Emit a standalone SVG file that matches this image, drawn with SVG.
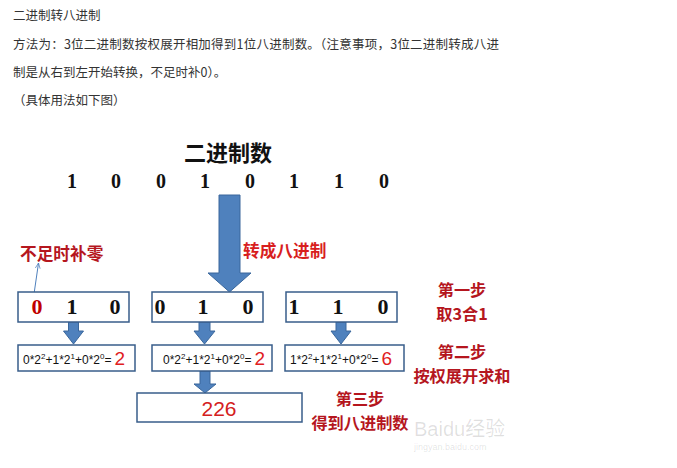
<svg xmlns="http://www.w3.org/2000/svg" width="677" height="468" viewBox="0 0 677 468">
<defs>
<style>
.para{font-family:"Noto Sans CJK SC","Noto Sans",sans-serif;font-size:12.5px;fill:#333}
.title{font-family:"Noto Sans CJK SC",sans-serif;font-size:22px;font-weight:bold;fill:#111}
.bit{font-family:"Liberation Serif","Noto Sans CJK SC",serif;font-size:20px;font-weight:bold;fill:#111;text-anchor:middle}
.bbit{font-family:"Liberation Serif",serif;font-size:22px;font-weight:bold;fill:#111;text-anchor:middle}
.box{fill:#fff;stroke:#385D8A;stroke-width:1.5}
.arr{fill:#4F81BD;stroke:#3A679C;stroke-width:1}
.lbl{font-family:"Noto Sans CJK SC",sans-serif;font-size:16.7px;font-weight:bold;fill:#B5161E}
.step{font-size:16.2px;text-anchor:middle}
.f{font-family:"Liberation Sans",sans-serif;font-size:12px;fill:#111}
.sup{font-size:8px}
.red{font-size:19px;fill:#E0201E}
.wm{font-family:"Liberation Sans","Noto Sans CJK SC",sans-serif;fill:#000;fill-opacity:0.12}
</style>
<marker id="thin" viewBox="0 0 10 10" refX="9" refY="5" markerWidth="6" markerHeight="6" orient="auto">
<path d="M0,1 L9,5 L0,9" fill="none" stroke="#4F81BD" stroke-width="1.2"/>
</marker>
</defs>
<rect width="677" height="468" fill="#fff"/>

<g id="paragraph">
<text class="para" x="13" y="20">二进制转八进制</text>
<text class="para" x="13" y="49" textLength="486" lengthAdjust="spacing">方法为：3位二进制数按权展开相加得到1位八进制数。（注意事项，3位二进制转成八进</text>
<text class="para" x="13" y="77">制是从右到左开始转换，不足时补0）。</text>
<text class="para" x="13" y="105">（具体用法如下图）</text>
</g>

<g id="title"><text class="title" x="184" y="161">二进制数</text></g>
<g id="bits">
<text class="bit" x="72" y="188">1</text>
<text class="bit" x="116" y="188">0</text>
<text class="bit" x="161" y="188">0</text>
<text class="bit" x="205" y="188">1</text>
<text class="bit" x="250" y="188">0</text>
<text class="bit" x="294" y="188">1</text>
<text class="bit" x="339" y="188">1</text>
<text class="bit" x="384" y="188">0</text>
</g>

<g id="connectors">
<polygon class="arr" points="219,195 240,195 240,273 251,273 229.5,292 208,273 219,273"/>
<polygon class="arr" points="68.5,322 78.5,322 78.5,331 83.5,331 73.5,344 63.5,331 68.5,331"/>
<polygon class="arr" points="199,322 210,322 210,331 215,331 204.5,344 194,331 199,331"/>
<polygon class="arr" points="336,322 346,322 346,331 351,331 341,344 331,331 336,331"/>
<polygon class="arr" points="200,371 210,371 210,384 216,384 205,393 194,384 200,384"/>
<line x1="34" y1="294" x2="38.5" y2="263" stroke="#4F81BD" stroke-width="1" marker-end="url(#thin)"/>
</g>

<g id="label-convert"><text class="lbl" x="243" y="257" style="fill:#D81E1E">转成八进制</text></g>
<g id="label-pad"><text class="lbl" x="20" y="260">不足时补零</text></g>

<g id="group1">
<rect class="box" x="18" y="292" width="111" height="30"/>
<text class="bbit" x="37" y="314" style="fill:#C00000">0</text>
<text class="bbit" x="72" y="314">1</text>
<text class="bbit" x="115" y="314">0</text>
</g>
<g id="group2">
<rect class="box" x="152" y="292" width="111" height="30"/>
<text class="bbit" x="160" y="314">0</text>
<text class="bbit" x="203" y="314">1</text>
<text class="bbit" x="248" y="314">0</text>
</g>
<g id="group3">
<rect class="box" x="286" y="292" width="111" height="30"/>
<text class="bbit" x="294" y="314">1</text>
<text class="bbit" x="338" y="314">1</text>
<text class="bbit" x="383" y="314">0</text>
</g>

<g id="sum1">
<rect class="box" x="18" y="345" width="117" height="26"/>
<text class="f" x="23" y="364">0*2<tspan class="sup" dy="-5">2</tspan><tspan dy="5">+1*2</tspan><tspan class="sup" dy="-5">1</tspan><tspan dy="5">+0*2</tspan><tspan class="sup" dy="-5">0</tspan><tspan dy="5">=</tspan><tspan class="red" dx="3" dy="1">2</tspan></text>
</g>
<g id="sum2">
<rect class="box" x="152" y="345" width="120" height="26"/>
<text class="f" x="163" y="364">0*2<tspan class="sup" dy="-5">2</tspan><tspan dy="5">+1*2</tspan><tspan class="sup" dy="-5">1</tspan><tspan dy="5">+0*2</tspan><tspan class="sup" dy="-5">0</tspan><tspan dy="5">=</tspan><tspan class="red" dx="3" dy="1">2</tspan></text>
</g>
<g id="sum3">
<rect class="box" x="285" y="345" width="119" height="26"/>
<text class="f" x="290" y="364">1*2<tspan class="sup" dy="-5">2</tspan><tspan dy="5">+1*2</tspan><tspan class="sup" dy="-5">1</tspan><tspan dy="5">+0*2</tspan><tspan class="sup" dy="-5">0</tspan><tspan dy="5">=</tspan><tspan class="red" dx="3" dy="1">6</tspan></text>
</g>

<g id="result">
<rect class="box" x="137" y="393" width="165" height="29"/>
<text x="219" y="416" text-anchor="middle" style="font-family:'Liberation Sans',sans-serif;font-size:21px;fill:#D42020">226</text>
</g>

<g id="step1">
<text class="lbl step" x="462" y="296">第一步</text>
<text class="lbl step" x="462" y="320">取3合1</text>
</g>
<g id="step2">
<text class="lbl step" x="462" y="358">第二步</text>
<text class="lbl step" x="462" y="382">按权展开求和</text>
</g>
<g id="step3">
<text class="lbl step" x="360" y="405">第三步</text>
<text class="lbl step" x="360" y="429">得到八进制数</text>
</g>

<g id="watermark">
<text class="wm" x="414" y="436" style="font-size:20px">Baidu经验</text>
<text class="wm" x="414" y="450" style="font-size:9px">jingyan.baidu.com</text>
</g>
</svg>
